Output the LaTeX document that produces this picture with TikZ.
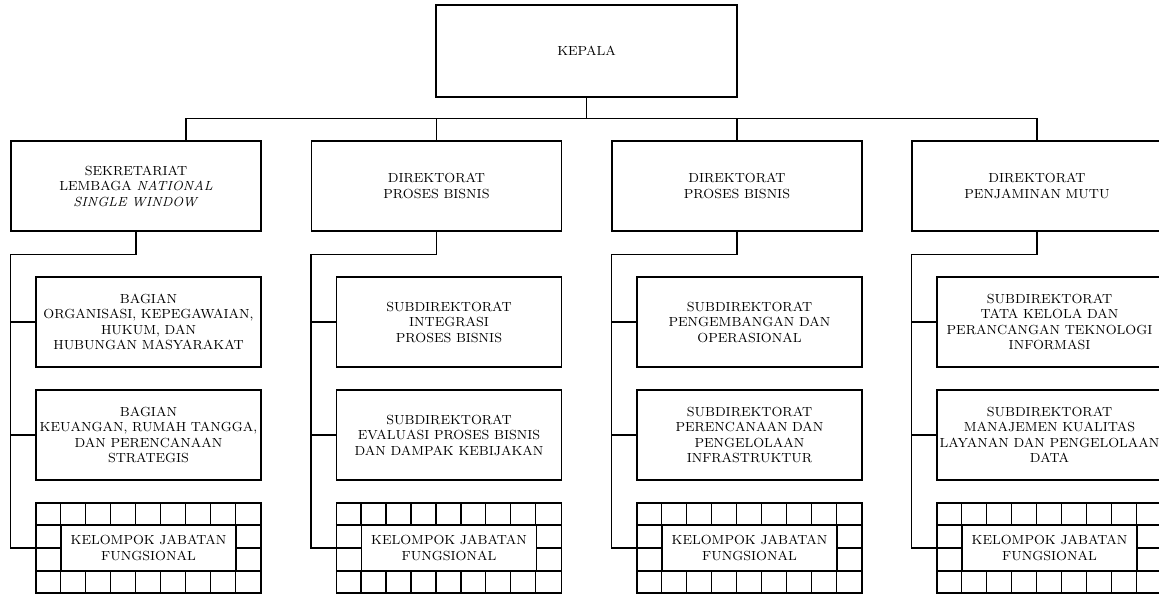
\documentclass[tikz,border=0pt]{standalone}
\usepackage{tikz}

\newcommand{\orgfont}{\fontsize{7.5}{8.8}\selectfont}

\begin{document}
\begin{tikzpicture}[x=0.02cm, y=-0.02cm, line width=0.7pt,
        box/.style={draw, minimum width=5cm, minimum height=1.8cm,
                    inner sep=1pt, align=center, font=\orgfont},
        sub/.style={box, minimum width=4.5cm},
        grp/.style={draw, minimum width=4.5cm, minimum height=1.8cm, inner sep=0pt},
        grptext/.style={draw, minimum width=3.5cm, minimum height=0.9cm,
                    inner sep=0pt, align=center, font=\orgfont}
    ]
        \useasboundingbox (0,0) rectangle (1159,594);

        % kepala
        \node[box, minimum width=6.02cm, minimum height=1.84cm] (kepala) at (586.5,51) {KEPALA};

        % direktorat
        \node[box] (d1) at (136,186)    {SEKRETARIAT\\LEMBAGA \textit{NATIONAL}\\\textit{SINGLE WINDOW}};
        \node[box] (d2) at (436.5,186)  {DIREKTORAT\\PROSES BISNIS};
        \node[box] (d3) at (737,186)    {DIREKTORAT\\PROSES BISNIS};
        \node[box] (d4) at (1037,186)   {DIREKTORAT\\PENJAMINAN MUTU};

        % unit di bawahnya
        \node[sub] (a1) at (148.5,322)  {BAGIAN\\ORGANISASI, KEPEGAWAIAN,\\HUKUM, DAN\\HUBUNGAN MASYARAKAT};
        \node[sub] (b1) at (148.5,435)  {BAGIAN\\KEUANGAN, RUMAH TANGGA,\\DAN PERENCANAAN\\STRATEGIS};
        \node[sub] (a2) at (449,322)    {SUBDIREKTORAT\\INTEGRASI\\PROSES BISNIS};
        \node[sub] (b2) at (449,435)    {SUBDIREKTORAT\\EVALUASI PROSES BISNIS\\DAN DAMPAK KEBIJAKAN};
        \node[sub] (a3) at (749.5,322)  {SUBDIREKTORAT\\PENGEMBANGAN DAN\\OPERASIONAL};
        \node[sub] (b3) at (749.5,435)  {SUBDIREKTORAT\\PERENCANAAN DAN\\PENGELOLAAN\\INFRASTRUKTUR};
        \node[sub] (a4) at (1049.5,322) {SUBDIREKTORAT\\TATA KELOLA DAN\\PERANCANGAN TEKNOLOGI\\INFORMASI};
        \node[sub] (b4) at (1049.5,435) {SUBDIREKTORAT\\MANAJEMEN KUALITAS\\LAYANAN DAN PENGELOLAAN\\DATA};

        % kelompok jabatan fungsional
        \foreach \c/\x in {1/148.5, 2/449, 3/749.5, 4/1049.5} {
            \node[grp] (g\c) at (\x,548) {};
            \node[grptext] (gt\c) at (g\c) {KELOMPOK JABATAN\\FUNGSIONAL};
            \foreach \k in {1,...,8} {
                \draw ([xshift=\k*0.5cm]g\c.north west) -- ++(0,-0.45cm);
                \draw ([xshift=\k*0.5cm]g\c.south west) -- ++(0,0.45cm);
            }
            \draw ([yshift=-0.45cm]g\c.north west) -- ([yshift=-0.45cm]g\c.north east);
            \draw ([yshift=0.45cm]g\c.south west) -- ([yshift=0.45cm]g\c.south east);
            \draw (g\c.west) -- (gt\c.west);
            \draw (g\c.east) -- (gt\c.east);
        }

        % garis
        \draw (kepala.south) -- ++(0,21) coordinate (bus);
        \draw ([xshift=1cm]d1.north) |- (bus) -| (d4.north);
        \draw (d2.north) -- (d2.north |- bus);
        \draw (d3.north) -- (d3.north |- bus);
        \foreach \c in {1,...,4} {
            \draw (d\c.south) -- ++(0,23) -| (d\c.west |- g\c.west) -- (g\c.west);
            \draw (a\c.west) -- (a\c.west -| d\c.west);
            \draw (b\c.west) -- (b\c.west -| d\c.west);
        }
    \end{tikzpicture}
\end{document}
